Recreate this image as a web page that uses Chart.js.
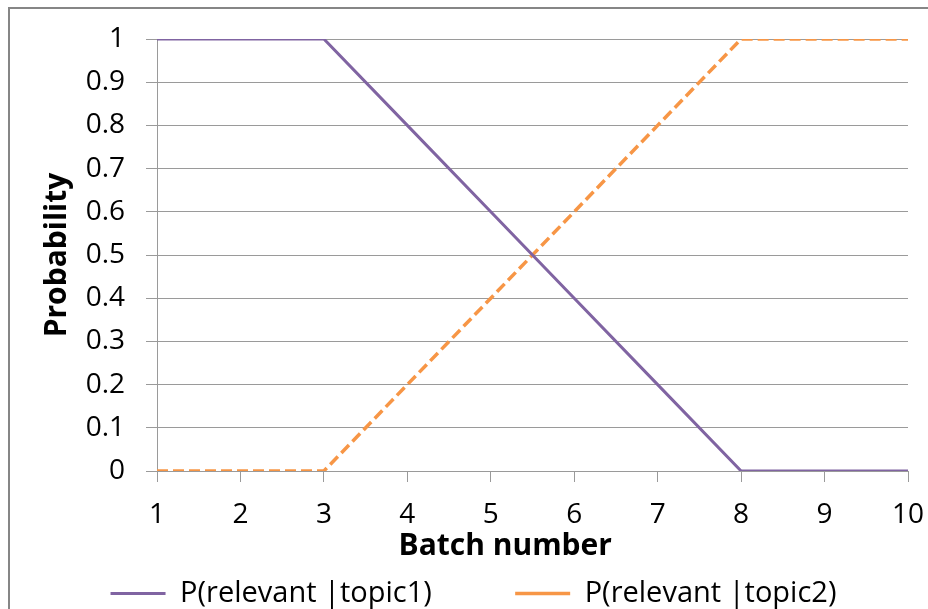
<!DOCTYPE html>
<html>
<head>
<meta charset="utf-8">
<script src="https://cdn.jsdelivr.net/npm/chart.js@4"></script>
<style>
  html, body { margin: 0; padding: 0; background: #fff; overflow: hidden; }
  #frame {
    position: absolute; left: 8px; top: 7px; width: 960px; height: 640px;
    border-left: 2px solid #868686; border-top: 2px solid #868686;
  }
  #probChart { position: absolute; left: 0; top: 0; }
</style>
</head>
<body>
<div id="frame"></div>
<canvas id="probChart" width="928" height="609"></canvas>
<script>
const batches = ["1", "2", "3", "4", "5", "6", "7", "8", "9", "10"];
const topic1 = [1, 1, 1, 0.8, 0.6, 0.4, 0.2, 0, 0, 0];
const topic2 = [0, 0, 0, 0.2, 0.4, 0.6, 0.8, 1, 1, 1];
const seriesNames = ["P(relevant |topic1)", "P(relevant |topic2)"];

const FONT = "'Open Sans', Lato, sans-serif";
// trailing spaces push text left / widen the gap, like the original layout
const PAD = (n) => "\u00a0".repeat(n);

// labels may hang over the plot edges, as in the original
function noOverhang(scale) {
  scale.paddingLeft = 0;
  scale.paddingRight = 0;
  scale.paddingTop = 0;
  scale.paddingBottom = 0;
}

function renderChart() {
  const ctx = document.getElementById("probChart").getContext("2d");
  new Chart(ctx, {
    type: "line",
    data: {
      labels: batches,
      datasets: [{
        label: seriesNames[0],
        data: topic1,
        borderColor: "#8064A2",
        backgroundColor: "#8064A2",
        borderWidth: 3,
        pointRadius: 0,
        pointStyle: "line",
        tension: 0
      }, {
        label: seriesNames[1],
        data: topic2,
        borderColor: "#F79646",
        backgroundColor: "#F79646",
        borderWidth: 3.5,
        borderDash: [11, 5],
        pointRadius: 0,
        pointStyle: "line",
        tension: 0
      }]
    },
    options: {
      responsive: false,
      animation: false,
      layout: { padding: { left: 39, right: 20, top: 39, bottom: -9 } },
      plugins: {
        tooltip: { enabled: false },
        legend: {
          position: "bottom",
          labels: {
            usePointStyle: true,
            pointStyleWidth: 55,
            boxHeight: 10,
            padding: 8,
            color: "#000",
            font: { family: FONT, size: 29 },
            generateLabels: (chart) => {
              const items = Chart.defaults.plugins.legend.labels.generateLabels(chart);
              items[0].text = items[0].text + PAD(10);
              return items;
            }
          }
        }
      },
      scales: {
        x: {
          grid: {
            drawOnChartArea: false,
            drawTicks: true,
            tickLength: 11,
            color: "#9a9a9a"
          },
          border: { display: false },
          ticks: {
            color: "#000",
            padding: 16,
            maxRotation: 0,
            font: { family: FONT, size: 28 }
          },
          title: {
            display: true,
            text: "Batch number" + PAD(7),
            color: "#000",
            padding: { top: 0, bottom: 7 },
            font: { family: FONT, size: 30, weight: "bold" }
          },
          afterFit: (scale) => { scale.height = 100; noOverhang(scale); }
        },
        y: {
          min: 0,
          max: 1,
          ticks: {
            stepSize: 0.1,
            color: "#000",
            padding: 21,
            font: { family: FONT, size: 28 },
            callback: (v) => String(Math.round(v * 10) / 10)
          },
          grid: {
            color: "#9a9a9a",
            tickLength: 11
          },
          border: { color: "#9a9a9a" },
          title: {
            display: true,
            text: "Probability",
            color: "#000",
            padding: { top: 0, bottom: 0 },
            font: { family: FONT, size: 30, weight: "bold" }
          },
          afterFit: (scale) => { scale.width = 118; noOverhang(scale); }
        }
      }
    }
  });
}

document.addEventListener("DOMContentLoaded", renderChart);
</script>
</body>
</html>
